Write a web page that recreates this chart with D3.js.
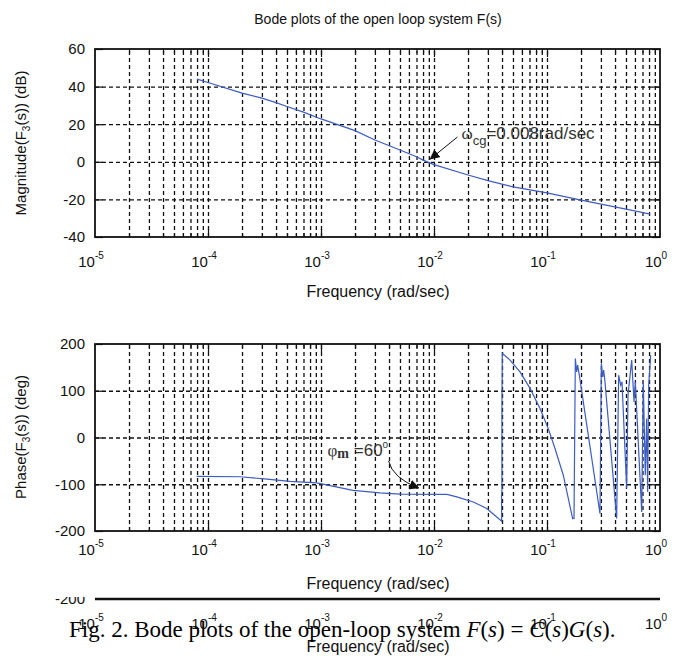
<!DOCTYPE html>
<html>
<head>
<meta charset="utf-8">
<script src="https://cdn.jsdelivr.net/npm/d3@7/dist/d3.min.js"></script>
<style>
    body { margin: 0; background: #fff; }
    text { font-family: "Liberation Sans", Arial, sans-serif; fill: #111; }
    .grid line { stroke: #111; stroke-width: 1.3; stroke-dasharray: 4,3; }
    .ticks line { stroke: #111; stroke-width: 1.2; }
</style>
</head>
<body>
<div id="chart"></div>
<script>
// decades on the frequency axis and their exponents
const decades = [1e-5, 1e-4, 1e-3, 1e-2, 1e-1, 1];
const decadeExp = ["-5", "-4", "-3", "-2", "-1", "0"];
const magTicks = [-40, -20, 0, 20, 40, 60];
const phaseTicks = [-200, -100, 0, 100, 200];

// magnitude curve
const magFreq = [8e-5, 1e-4, 2e-4, 3e-4, 4e-4, 5e-4, 7e-4, 1e-3, 2e-3, 3e-3, 5e-3, 7e-3, 8e-3,
    1e-2, 2e-2, 3e-2, 5e-2, 1e-1, 2e-1, 5e-1, 0.82];
const magDb = [44, 42.2, 36.5, 33.9, 31.5, 29.4, 26.4, 22.8, 16.6, 11.6, 6.3, 2.7, 0.9,
    -1.5, -7, -10, -13.3, -16.5, -20.4, -25.2, -27.8];

// phase curve (wrapped, as drawn)
const phaseFreq = [7.94e-5, 1.92e-4, 3.33e-4, 5.3e-4, 9.2e-4, 1.92e-3, 3.33e-3, 5.0e-3, 1.3e-2,
    1.59e-2, 2.23e-2, 2.93e-2, 3.84e-2, 3.97e-2, 3.96e-2, 3.99e-2, 3.99e-2, 4.02e-2,
    4.71e-2, 5.77e-2, 7.08e-2, 8.67e-2, 0.1026, 0.1177, 0.1394, 0.1686,
    0.1734, 0.1781, 0.183, 0.1868, 0.1932, 0.2944, 0.3026, 0.3111, 0.3174, 0.326,
    0.4135, 0.4307, 0.4487, 0.461, 0.507, 0.521, 0.5617, 0.5888, 0.6046, 0.6887,
    0.7115, 0.7413, 0.762, 0.778, 0.794, 0.8275];
const phaseDeg = [-83, -84, -89, -94, -97, -113, -118.6, -121, -121.5,
    -127, -138, -152, -176, -179, -120, -115, 60, 180,
    165.5, 140.5, 105, 62, 19, -23.6, -80.7, -173.4,
    -173, 169, 140.5, 154.8, 133.4, -162.7, 158.5, 129.8, 144.1, 119,
    -173.4, 133.4, 112, 119, -109.2, 90.6, 165.5, 76.2, 119, -159.3,
    119, -80.7, 40.7, -116.5, 112, 176.2];

const W = 675, H = 660;
const lineColor = "#3d5cc4";

const svg = d3.select("#chart").append("svg")
    .attr("width", W).attr("height", H);
svg.append("rect").attr("width", W).attr("height", H).attr("fill", "#fff");

const x = d3.scaleLog().domain([1e-5, 1]).range([95, 660]);

// all log ticks inside the range (2..9 of each decade plus inner decades)
let minorTicks = [], majorTicks = decades.slice(1, -1);
decades.slice(0, -1).forEach(d => {
    for (let k = 2; k <= 9; k++) minorTicks.push(d * k);
});
const allTicks = majorTicks.concat(minorTicks);

svg.append("text")
    .attr("x", 378).attr("y", 24)
    .attr("text-anchor", "middle")
    .style("font-size", "14px")
    .text("Bode plots of the open loop system F(s)");

function drawPanel(y, yTicks, top, bottom) {
    const g = svg.append("g");
    const h = bottom - top;
    // vertical grid
    g.append("g").attr("class", "grid")
        .attr("transform", `translate(0,${bottom})`)
        .call(d3.axisBottom(x).tickValues(allTicks).tickSize(-h).tickFormat(""))
        .call(s => s.select(".domain").remove());
    // horizontal grid
    g.append("g").attr("class", "grid")
        .attr("transform", `translate(${x.range()[0]},0)`)
        .call(d3.axisLeft(y).tickValues(yTicks.slice(1, -1)).tickSize(-(x.range()[1] - x.range()[0])).tickFormat(""))
        .call(s => s.select(".domain").remove());
    // inward ticks on the box
    [[d3.axisBottom, bottom], [d3.axisTop, top]].forEach(([ax, pos]) => {
        g.append("g").attr("class", "ticks").attr("transform", `translate(0,${pos})`)
            .call(ax(x).tickValues(minorTicks).tickSize(-4).tickFormat(""))
            .call(s => s.select(".domain").remove());
        g.append("g").attr("class", "ticks").attr("transform", `translate(0,${pos})`)
            .call(ax(x).tickValues(majorTicks).tickSize(-8).tickFormat(""))
            .call(s => s.select(".domain").remove());
    });
    g.append("g").attr("class", "ticks").attr("transform", `translate(${x.range()[0]},0)`)
        .call(d3.axisLeft(y).tickValues(yTicks).tickSize(-8).tickFormat(""))
        .call(s => s.select(".domain").remove());
    g.append("g").attr("class", "ticks").attr("transform", `translate(${x.range()[1]},0)`)
        .call(d3.axisRight(y).tickValues(yTicks).tickSize(-8).tickFormat(""))
        .call(s => s.select(".domain").remove());
    // box
    g.append("rect")
        .attr("x", x.range()[0]).attr("y", top)
        .attr("width", x.range()[1] - x.range()[0]).attr("height", h)
        .attr("fill", "none").attr("stroke", "#111").attr("stroke-width", 1.8);
    // y labels
    g.selectAll(".ylab").data(yTicks).enter().append("text")
        .attr("x", x.range()[0] - 10).attr("y", d => y(d)).attr("dy", "0.36em")
        .attr("text-anchor", "end").style("font-size", "15px")
        .text(d => d);
    return g;
}

function decadeLabels(g, baseY) {
    const t = g.selectAll(".xlab").data(decades).enter().append("text")
        .attr("x", d => x(d) - 4).attr("y", baseY)
        .attr("text-anchor", "middle").style("font-size", "15px");
    t.append("tspan").text("10");
    t.append("tspan").attr("dy", -8).style("font-size", "10px").text((d, i) => decadeExp[i]);
}

// magnitude panel
const yMag = d3.scaleLinear().domain([-40, 60]).range([237, 49]);
const gMag = drawPanel(yMag, magTicks, 49, 237);
decadeLabels(gMag, 267);
gMag.append("text").attr("x", 378).attr("y", 297).attr("text-anchor", "middle")
    .style("font-size", "16px").text("Frequency (rad/sec)");
const magLab = gMag.append("text").attr("transform", `translate(26,${143}) rotate(-90)`)
    .attr("text-anchor", "middle").style("font-size", "15px");
magLab.append("tspan").text("Magnitude(F");
magLab.append("tspan").attr("dy", 4).style("font-size", "10px").text("3");
magLab.append("tspan").attr("dy", -4).text("(s)) (dB)");

const magLine = d3.line().x(d => x(d[0])).y(d => yMag(d[1]));
gMag.append("path").datum(magFreq.map((f, i) => [f, magDb[i]]))
    .attr("d", magLine).attr("fill", "none")
    .attr("stroke", lineColor).attr("stroke-width", 1.2);

// arrowhead marker
svg.append("defs").append("marker")
    .attr("id", "arrow").attr("viewBox", "0 0 10 10")
    .attr("refX", 9).attr("refY", 5)
    .attr("markerWidth", 10).attr("markerHeight", 10)
    .attr("markerUnits", "userSpaceOnUse")
    .attr("orient", "auto")
    .append("path").attr("d", "M0,0 L10,5 L0,10 z").attr("fill", "#111");

// crossover annotation
const tipMag = [x(0.0093), yMag(1.5)];
gMag.append("path")
    .attr("d", `M${tipMag[0] + 27},${tipMag[1] - 22} L${tipMag[0]},${tipMag[1]}`)
    .attr("stroke", "#111").attr("stroke-width", 1).attr("marker-end", "url(#arrow)");
const wcg = gMag.append("text").attr("x", tipMag[0] + 31).attr("y", tipMag[1] - 20)
    .style("font-size", "17px").style("fill", "#333");
wcg.append("tspan").style("font-family", "'Liberation Serif', serif").text("ω");
wcg.append("tspan").attr("dy", 6).style("font-size", "13px").text("cg");
wcg.append("tspan").attr("dy", -6).text("=0.008rad/sec");

// phase panel
const yPh = d3.scaleLinear().domain([-200, 200]).range([531, 344]);
const gPh = drawPanel(yPh, phaseTicks, 344, 531);
decadeLabels(gPh, 555);
gPh.append("text").attr("x", 378).attr("y", 589).attr("text-anchor", "middle")
    .style("font-size", "16px").text("Frequency (rad/sec)");
const phLab = gPh.append("text").attr("transform", `translate(26,${437}) rotate(-90)`)
    .attr("text-anchor", "middle").style("font-size", "15px");
phLab.append("tspan").text("Phase(F");
phLab.append("tspan").attr("dy", 4).style("font-size", "10px").text("3");
phLab.append("tspan").attr("dy", -4).text("(s)) (deg)");

const phLine = d3.line().x(d => x(d[0])).y(d => yPh(d[1]));
gPh.append("path").datum(phaseFreq.map((f, i) => [f, phaseDeg[i]]))
    .attr("d", phLine).attr("fill", "none")
    .attr("stroke", lineColor).attr("stroke-width", 1.2);

// phase margin annotation
const tipPh = [x(0.0073), yPh(-108)];
gPh.append("path")
    .attr("d", `M${tipPh[0] - 30},${tipPh[1] - 27} Q${tipPh[0] - 26},${tipPh[1] - 10} ${tipPh[0]},${tipPh[1]}`)
    .attr("fill", "none").attr("stroke", "#111").attr("stroke-width", 1)
    .attr("marker-end", "url(#arrow)");
const pm = gPh.append("text").attr("x", tipPh[0] - 91).attr("y", tipPh[1] - 32)
    .style("font-size", "17px").style("fill", "#333");
pm.append("tspan").style("font-family", "'Liberation Serif', serif").text("φ");
pm.append("tspan").attr("dy", 2).style("font-family", "'Liberation Serif', serif")
    .style("font-size", "14px").style("font-weight", "bold").text("m");
pm.append("tspan").attr("dy", -2).text(" =60");
pm.append("tspan").attr("dy", -8).style("font-size", "10px").text("o");

// remnants of the page below: clipped axis of another figure and the caption
svg.append("clipPath").attr("id", "cutTop")
    .append("rect").attr("x", 0).attr("y", 597).attr("width", W).attr("height", 63);
const gRest = svg.append("g");
gRest.append("text").attr("x", 85).attr("y", 604).attr("text-anchor", "end")
    .attr("clip-path", "url(#cutTop)")
    .style("font-size", "15px").text("-200");
gRest.append("line")
    .attr("x1", x.range()[0]).attr("x2", x.range()[1])
    .attr("y1", 599).attr("y2", 599)
    .attr("stroke", "#111").attr("stroke-width", 2.5);
decadeLabels(gRest, 629);
gRest.append("text").attr("x", 378).attr("y", 652).attr("text-anchor", "middle")
    .style("font-size", "16px").text("Frequency (rad/sec)");

const cap = gRest.append("text").attr("x", 69).attr("y", 637)
    .style("font-family", "'Liberation Serif', 'Times New Roman', serif")
    .style("font-size", "23px").style("fill", "#000");
cap.append("tspan").text("Fig. 2.  Bode plots of the open-loop system ");
cap.append("tspan").style("font-style", "italic").text("F");
cap.append("tspan").text("(");
cap.append("tspan").style("font-style", "italic").text("s");
cap.append("tspan").text(") = ");
cap.append("tspan").style("font-style", "italic").text("C");
cap.append("tspan").text("(");
cap.append("tspan").style("font-style", "italic").text("s");
cap.append("tspan").text(")");
cap.append("tspan").style("font-style", "italic").text("G");
cap.append("tspan").text("(");
cap.append("tspan").style("font-style", "italic").text("s");
cap.append("tspan").text(").");
</script>
</body>
</html>
